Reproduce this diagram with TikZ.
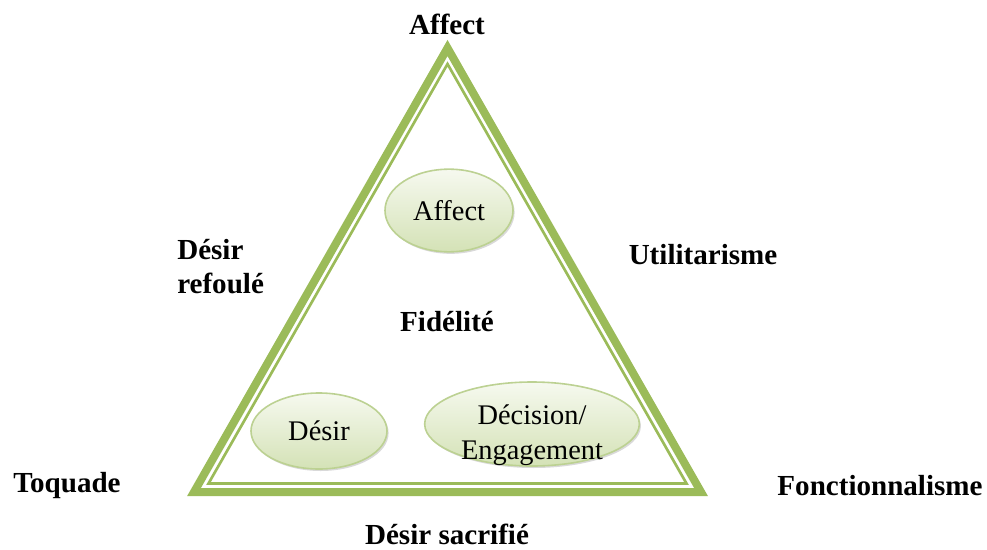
\documentclass[tikz,border=0pt]{standalone}
\usepackage{fontspec}
\setmainfont{Liberation Serif}
\usepackage{tikz}
\usetikzlibrary{shapes.geometric,shadows}
\definecolor{triGreen}{HTML}{9BBB59}
\definecolor{ovalEdge}{HTML}{BCD192}
\definecolor{ovalLow}{HTML}{D4E2B6}
\definecolor{ovalHigh}{HTML}{F6F9EF}
\begin{document}
\begin{tikzpicture}[x=0.75pt,y=-0.75pt]
			\tikzstyle{every node}+=[inner sep=0pt]
			\tikzstyle{label}=[font=\fontsize{21.8}{25.5}\selectfont\bfseries]
			\tikzstyle{ovaltext}=[font=\fontsize{21.3}{26.5}\selectfont, align=center]
			\tikzstyle{oval}=[ellipse, draw=ovalEdge, line width=1.2pt, top color=ovalHigh, bottom color=ovalLow, drop shadow={shadow xshift=1.2pt, shadow yshift=-1.5pt, opacity=0.25, fill=black!60}, ovaltext]
			\useasboundingbox (0,0) rectangle (987,549);
			% triangle, thick and thin line
			\coordinate (top) at (447.5,48);
			\coordinate (left) at (194,492);
			\coordinate (right) at (701,492);
			\coordinate (topin) at (447.5,64);
			\coordinate (leftin) at (208.5,483.5);
			\coordinate (rightin) at (686.5,483.5);
			\draw [triGreen, line width=6pt, line join=miter] (top) -- (left) -- (right) -- cycle;
			\draw [triGreen, line width=2pt, line join=miter] (topin) -- (leftin) -- (rightin) -- cycle;
			% ovals (sizes in pt)
			\node [oval, minimum width=96pt, minimum height=62pt] (affectoval) at (449,210.5) {Affect};
			\node [oval, minimum width=102pt, minimum height=57pt] (desiroval) at (319,431) {Désir};
			\node [oval, minimum width=161pt, minimum height=63pt] (decisionoval) at (532,424) {};
			\node [ovaltext] (decision) at (532,435) {Décision/\\Engagement};
			% labels
			\node [label] (affect) at (447,24) {Affect};
			\node [label, align=left, anchor=west] (refoule) at (177,267) {Désir\\refoulé};
			\node [label] (utilit) at (703,255) {Utilitarisme};
			\node [label] (fidelite) at (447,322) {Fidélité};
			\node [label] (toquade) at (67,486) {Toquade};
			\node [label] (fonction) at (880,486) {Fonctionnalisme};
			\node [label] (sacrifie) at (447,534) {Désir sacrifié};
\end{tikzpicture}
\end{document}
